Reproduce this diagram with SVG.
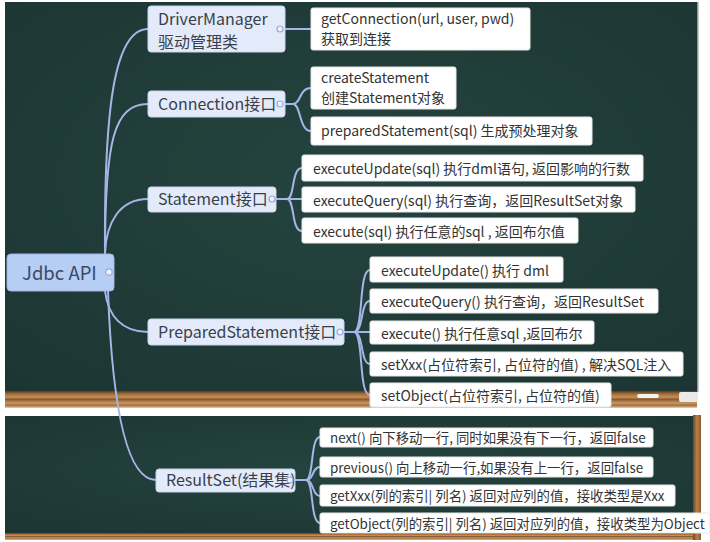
<svg xmlns="http://www.w3.org/2000/svg" width="710" height="542" viewBox="0 0 710 542">
<defs>
<radialGradient id="board" cx="0.5" cy="0.45" r="0.75">
<stop offset="0" stop-color="#25443f"/>
<stop offset="1" stop-color="#1c3532"/>
</radialGradient>
<linearGradient id="wood" x1="0" y1="0" x2="0" y2="1">
<stop offset="0" stop-color="#5a3a1e"/>
<stop offset="0.15" stop-color="#9a6736"/>
<stop offset="0.35" stop-color="#c58f57"/>
<stop offset="0.5" stop-color="#8d5b2e"/>
<stop offset="0.7" stop-color="#c89762"/>
<stop offset="0.85" stop-color="#a5713f"/>
<stop offset="1" stop-color="#e7d2b4"/>
</linearGradient>
<linearGradient id="woodv" x1="0" y1="0" x2="1" y2="0">
<stop offset="0" stop-color="#6e4524"/>
<stop offset="0.5" stop-color="#b9824c"/>
<stop offset="1" stop-color="#8a5a30"/>
</linearGradient>
<style>
text{font-family:"Noto Sans CJK SC","Noto Sans",sans-serif;fill:#333}
.root{fill:#b6cdf4;stroke:#9fb6e6;stroke-width:1}
.mid{fill:#e3ebfa;stroke:#c8d4ee;stroke-width:1}
.leaf{fill:#ffffff;stroke:#e6e6e6;stroke-width:1}
.tog{fill:#eef2fc;stroke:#98a8d8;stroke-width:1.2}
.c{fill:none;stroke:#a6b5e6;stroke-width:2}
.t16{font-size:16px;fill:#3a3f4a}
.t14{font-size:14px}
.t13{font-size:13.4px}
</style>
</defs>
<rect width="710" height="542" fill="#ffffff"/>
<g id="background">
<rect x="5" y="2" width="692" height="390" fill="url(#board)"/>
<rect x="697" y="2" width="1.5" height="390" fill="#8f9a98"/>
<rect x="5" y="391" width="692" height="17" fill="url(#wood)"/>
<rect x="637" y="394" width="22" height="4" rx="2" fill="#f2f2f2"/>
<rect x="679" y="392" width="19" height="10" rx="2" fill="#e9e9e9"/>
<rect x="5" y="416" width="690" height="118" fill="url(#board)"/>
<rect x="5" y="533" width="695" height="7" fill="url(#wood)"/>
<rect x="693" y="415" width="8" height="125" fill="url(#woodv)"/>
</g>
<g id="connectors">
<path class="c" d="M105,254 C104,110 114,29 148,29"/>
<path class="c" d="M105,254 C105,140 114,104 148,104"/>
<path class="c" d="M105,254 C106,222 120,199 148,199"/>
<path class="c" d="M105,291 C108,316 122,332 148,332"/>
<path class="c" d="M108,291 C112,400 125,480 156,480"/>
<path class="c" d="M284,29 L311,29"/>
<path class="c" d="M284,104 L293,104"/>
<path class="c" d="M293,104 C301,104 299,88 311,88"/>
<path class="c" d="M293,104 C301,104 299,131 311,131"/>
<path class="c" d="M276,199 L302,199"/>
<path class="c" d="M287,199 C295,199 291,168 302,168"/>
<path class="c" d="M287,199 C295,199 291,231 302,231"/>
<path class="c" d="M344,332 L370,332"/>
<path class="c" d="M354,332 C364,332 358,270 370,270"/>
<path class="c" d="M354,332 C364,332 360,301 370,301"/>
<path class="c" d="M354,332 C364,332 360,364 370,364"/>
<path class="c" d="M354,332 C364,332 358,395 370,395"/>
<path class="c" d="M295,480 L306,480"/>
<path class="c" d="M306,480 C314,480 310,437 320,437"/>
<path class="c" d="M306,480 C314,480 312,467 320,467"/>
<path class="c" d="M306,480 C314,480 312,496 320,496"/>
<path class="c" d="M306,480 C314,480 310,523 320,523"/>
</g>
<g id="root">
<rect class="root" x="7" y="254" width="107" height="37" rx="4"/>
<text x="22" y="280" style="font-size:18.5px;fill:#3b4866">Jdbc API</text>
<circle class="tog" cx="109" cy="272" r="3.2"/>
</g>
<g id="drivermanager">
<rect class="mid" x="148" y="6" width="137" height="46" rx="3"/>
<text class="t16" x="158" y="24.5">DriverManager</text>
<text class="t16" x="158" y="48">驱动管理类</text>
<circle class="tog" cx="280" cy="29" r="3"/>
</g>
<g id="connection">
<rect class="mid" x="148" y="91" width="137" height="26" rx="3"/>
<text class="t16" x="158" y="110">Connection接口</text>
<circle class="tog" cx="280" cy="104" r="3"/>
</g>
<g id="statement">
<rect class="mid" x="148" y="187" width="128" height="25" rx="3"/>
<text class="t16" x="158" y="205">Statement接口</text>
<circle class="tog" cx="272" cy="199" r="3"/>
</g>
<g id="preparedstatement">
<rect class="mid" x="148" y="319" width="196" height="26" rx="3"/>
<text class="t16" x="158" y="338">PreparedStatement接口</text>
<circle class="tog" cx="340" cy="332" r="3"/>
</g>
<g id="resultset">
<rect class="mid" x="156" y="469" width="139" height="23" rx="3"/>
<text class="t16" x="166" y="486">ResultSet(结果集)</text>
<circle class="tog" cx="290" cy="480" r="3"/>
</g>
<g id="getconnection">
<rect class="leaf" x="311" y="8" width="219" height="42" rx="2"/>
<text class="t14" x="321" y="24">getConnection(url, user, pwd)</text>
<text class="t14" x="321" y="44">获取到连接</text>
</g>
<g id="createstatement">
<rect class="leaf" x="311" y="67" width="145" height="42" rx="2"/>
<text class="t14" x="321" y="83">createStatement</text>
<text class="t14" x="321" y="103">创建Statement对象</text>
</g>
<g id="preparedstatement-sql">
<rect class="leaf" x="311" y="117" width="281" height="28" rx="2"/>
<text class="t14" x="321" y="136">preparedStatement(sql) 生成预处理对象</text>
</g>
<g id="st-executeupdate">
<rect class="leaf" x="302" y="155" width="341" height="26" rx="2"/>
<text class="t14" x="313" y="174">executeUpdate(sql) 执行dml语句, 返回影响的行数</text>
</g>
<g id="st-executequery">
<rect class="leaf" x="302" y="187" width="333" height="25" rx="2"/>
<text class="t14" x="313" y="206">executeQuery(sql) 执行查询，返回ResultSet对象</text>
</g>
<g id="st-execute">
<rect class="leaf" x="302" y="218" width="276" height="25" rx="2"/>
<text class="t14" x="313" y="237">execute(sql) 执行任意的sql , 返回布尔值</text>
</g>
<g id="ps-executeupdate">
<rect class="leaf" x="370" y="257" width="193" height="25" rx="2"/>
<text class="t14" x="381" y="276">executeUpdate() 执行 dml</text>
</g>
<g id="ps-executequery">
<rect class="leaf" x="370" y="289" width="288" height="24" rx="2"/>
<text class="t14" x="381" y="307">executeQuery() 执行查询，返回ResultSet</text>
</g>
<g id="ps-execute">
<rect class="leaf" x="370" y="321" width="224" height="23" rx="2"/>
<text class="t14" x="381" y="339">execute() 执行任意sql ,返回布尔</text>
</g>
<g id="ps-setxxx">
<rect class="leaf" x="370" y="352" width="313" height="24" rx="2"/>
<text class="t14" x="381" y="370">setXxx(占位符索引, 占位符的值) , 解决SQL注入</text>
</g>
<g id="ps-setobject">
<rect class="leaf" x="370" y="383" width="241" height="24" rx="2"/>
<text class="t14" x="381" y="401">setObject(占位符索引, 占位符的值)</text>
</g>
<g id="rs-next">
<rect class="leaf" x="320" y="428" width="333" height="19" rx="2"/>
<text class="t13" x="330" y="443">next() 向下移动一行, 同时如果没有下一行，返回false</text>
</g>
<g id="rs-previous">
<rect class="leaf" x="320" y="457" width="333" height="20" rx="2"/>
<text class="t13" x="330" y="473">previous() 向上移动一行,如果没有上一行，返回false</text>
</g>
<g id="rs-getxxx">
<rect class="leaf" x="320" y="485" width="355" height="21" rx="2"/>
<text class="t13" x="330" y="501">getXxx(列的索引| 列名) 返回对应列的值，接收类型是Xxx</text>
</g>
<g id="rs-getobject">
<rect class="leaf" x="320" y="513" width="390" height="20" rx="2"/>
<text class="t13" x="330" y="529">getObject(列的索引| 列名) 返回对应列的值，接收类型为Object</text>
</g>
</svg>
